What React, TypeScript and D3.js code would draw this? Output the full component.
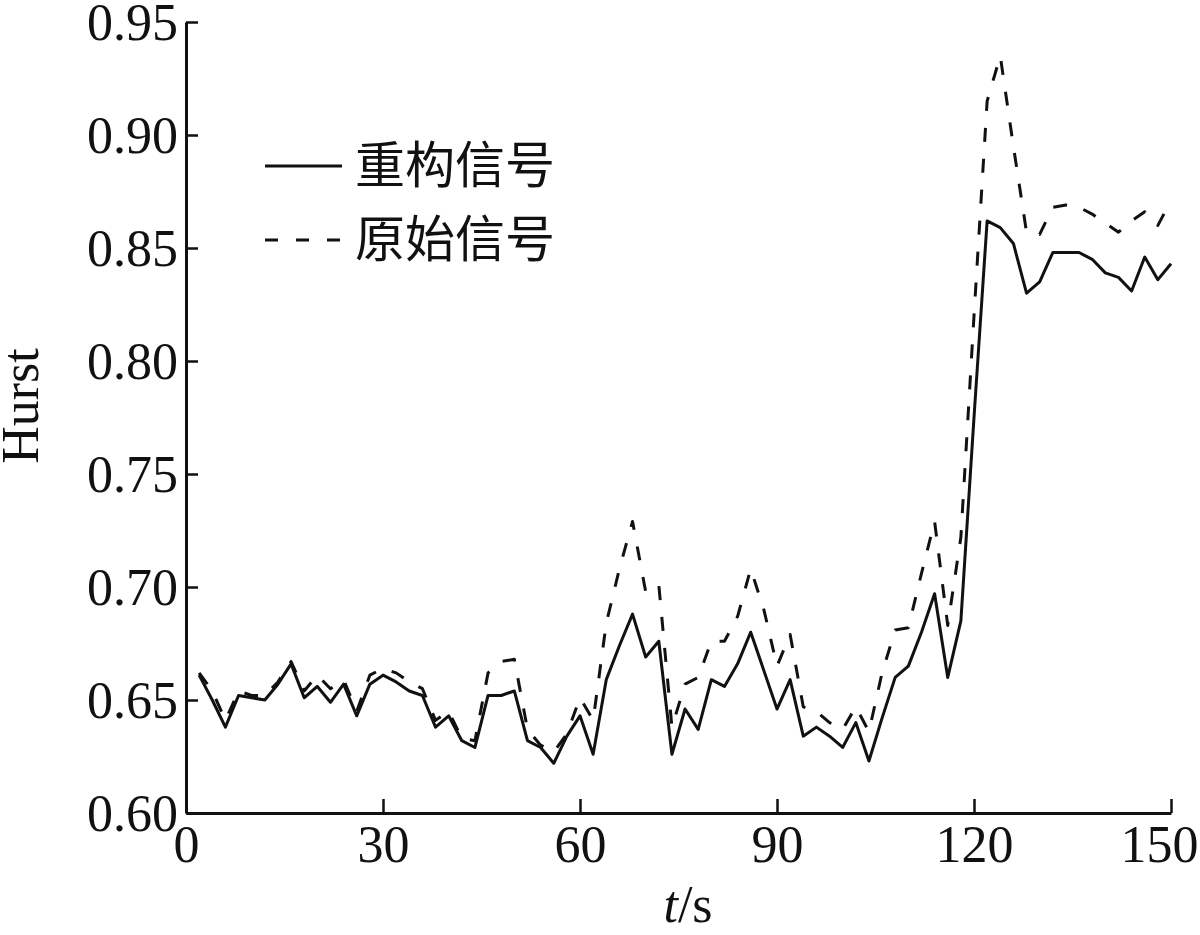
import React, { useEffect, useRef } from "react";
import * as d3 from "d3";

const times: number[] = d3.range(2, 151, 2);

const reconstructed: number[] = [
  0.661, 0.650, 0.638, 0.652, 0.651, 0.650, 0.657, 0.666, 0.651, 0.656,
  0.649, 0.657, 0.643, 0.657, 0.661, 0.658, 0.654, 0.652, 0.638, 0.643,
  0.632, 0.629, 0.652, 0.652, 0.654, 0.632, 0.629, 0.622, 0.634, 0.643,
  0.626, 0.659, 0.674, 0.688, 0.669, 0.676, 0.626, 0.646, 0.637, 0.659,
  0.656, 0.666, 0.680, 0.663, 0.646, 0.659, 0.634, 0.638, 0.634, 0.629,
  0.640, 0.623, 0.642, 0.660, 0.665, 0.680, 0.697, 0.660, 0.685, 0.775,
  0.862, 0.859, 0.852, 0.830, 0.835, 0.848, 0.848, 0.848, 0.845, 0.839,
  0.837, 0.831, 0.846, 0.836, 0.843,
];

const original: number[] = [
  0.662, 0.654, 0.641, 0.654, 0.652, 0.652, 0.658, 0.667, 0.654, 0.661,
  0.655, 0.659, 0.645, 0.661, 0.664, 0.662, 0.658, 0.655, 0.641, 0.645,
  0.633, 0.632, 0.662, 0.667, 0.668, 0.637, 0.630, 0.627, 0.635, 0.651,
  0.641, 0.684, 0.708, 0.729, 0.698, 0.701, 0.638, 0.657, 0.660, 0.676,
  0.676, 0.687, 0.708, 0.690, 0.665, 0.679, 0.647, 0.645, 0.640, 0.637,
  0.647, 0.636, 0.662, 0.681, 0.682, 0.706, 0.729, 0.683, 0.722, 0.820,
  0.915, 0.935, 0.895, 0.857, 0.856, 0.868, 0.869, 0.868, 0.865, 0.861,
  0.857, 0.862, 0.866, 0.860, 0.871,
];

const xTicks: number[] = [0, 30, 60, 90, 120, 150];
const yTicks: number[] = [0.6, 0.65, 0.7, 0.75, 0.8, 0.85, 0.9, 0.95];
const legendLabels: string[] = ["重构信号", "原始信号"];

const W = 1200;
const H = 935;
const X0 = 186;
const X1 = 1171;
const Y0 = 813;
const Y1 = 22;
const INK = "#111";
const SERIF = "'Liberation Serif', 'Times New Roman', serif";

export default function App() {
  const ref = useRef<SVGSVGElement>(null);

  useEffect(() => {
    const svg = d3.select(ref.current);
    svg.selectAll("*").remove();

    const x = d3.scaleLinear().domain([0, 150]).range([X0, X1]);
    const y = d3.scaleLinear().domain([0.6, 0.95]).range([Y0, Y1]);

    // axes
    const xAxis = d3.axisBottom(x).tickValues(xTicks).tickSizeInner(-14).tickSizeOuter(0).tickPadding(22)
      .tickFormat((d) => String(d));
    const gx = svg.append("g").attr("transform", `translate(0,${Y0})`).call(xAxis);
    gx.select(".domain").attr("stroke", INK).attr("stroke-width", 3);
    gx.selectAll(".tick line").attr("stroke", INK).attr("stroke-width", 2.5);
    gx.selectAll<SVGTextElement, number>(".tick text").attr("font-family", SERIF).attr("font-size", 52).attr("fill", INK)
      .attr("dy", "0.71em").attr("y", 12)
      .attr("text-anchor", (d) => (d === 150 ? "end" : "middle"))
      .attr("x", (d) => (d === 150 ? 27 : 0));

    const yAxis = d3.axisLeft(y).tickValues(yTicks).tickSizeInner(-12).tickSizeOuter(0).tickPadding(10)
      .tickFormat(d3.format(".2f"));
    const gy = svg.append("g").attr("transform", `translate(${X0},0)`).call(yAxis);
    gy.select(".domain").attr("stroke", INK).attr("stroke-width", 3);
    gy.selectAll(".tick line").attr("stroke", INK).attr("stroke-width", 2.5);
    gy.selectAll(".tick text").attr("font-family", SERIF).attr("font-size", 52).attr("fill", INK)
      .attr("x", -8).attr("dy", "0.34em");

    // lines
    const line = d3.line<number>().x((_, i) => x(times[i])).y((d) => y(d));
    svg.append("path").datum(original).attr("d", line).attr("fill", "none")
      .attr("stroke", INK).attr("stroke-width", 3).attr("stroke-dasharray", "14 17")
      .attr("stroke-linejoin", "round");
    svg.append("path").datum(reconstructed).attr("d", line).attr("fill", "none")
      .attr("stroke", INK).attr("stroke-width", 3).attr("stroke-linejoin", "round");

    // legend
    const lg = svg.append("g");
    const rows = [166, 240];
    legendLabels.forEach((lab, i) => {
      lg.append("line").attr("x1", 265).attr("x2", 342).attr("y1", rows[i]).attr("y2", rows[i])
        .attr("stroke", INK).attr("stroke-width", 3)
        .attr("stroke-dasharray", i === 1 ? "13 18" : null);
      lg.append("text").attr("x", 355).attr("y", rows[i] + 17)
        .attr("font-family", "'Noto Sans CJK SC', sans-serif").attr("font-size", 50).attr("fill", INK)
        .text(lab);
    });

    // axis titles
    svg.append("text").attr("transform", `translate(38,406) rotate(-90)`).attr("text-anchor", "middle")
      .attr("font-family", SERIF).attr("font-size", 52).attr("fill", INK).text("Hurst");

    const xt = svg.append("text").attr("x", 688).attr("y", 922).attr("text-anchor", "middle")
      .attr("font-family", SERIF).attr("font-size", 52).attr("fill", INK);
    xt.append("tspan").attr("font-style", "italic").text("t");
    xt.append("tspan").text("/s");
  }, []);

  return (
    <svg
      ref={ref}
      width={W}
      height={H}
      style={{ position: "absolute", left: 0, top: 0, background: "#fff" }}
    />
  );
}
